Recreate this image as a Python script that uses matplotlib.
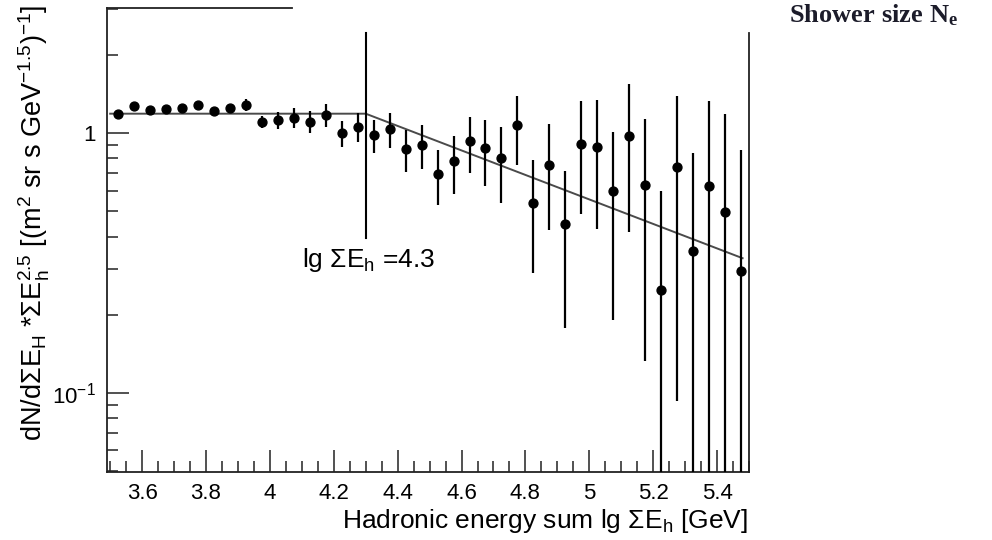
import numpy as np
import matplotlib
matplotlib.use("Agg")
import matplotlib.pyplot as plt
from matplotlib.ticker import MultipleLocator, FixedLocator, NullFormatter, FuncFormatter, LogLocator

plt.rcParams['font.family'] = ['Liberation Sans', 'DejaVu Sans']
plt.rcParams['mathtext.fontset'] = 'custom'
plt.rcParams['mathtext.rm'] = 'Liberation Sans'
plt.rcParams['mathtext.it'] = 'Liberation Sans:italic'
plt.rcParams['mathtext.bf'] = 'Liberation Serif:bold'

# bin centres, lg(sum E_h / GeV)
lg_e = [3.525, 3.575, 3.625, 3.675, 3.725, 3.775, 3.825, 3.875, 3.925, 3.975,
        4.025, 4.075, 4.125, 4.175, 4.225, 4.275, 4.325, 4.375, 4.425, 4.475,
        4.525, 4.575, 4.625, 4.675, 4.725, 4.775, 4.825, 4.875, 4.925, 4.975,
        5.025, 5.075, 5.125, 5.175, 5.225, 5.275, 5.325, 5.375, 5.425, 5.475]

# scaled flux dN/dSumE * SumE^2.5
flux = [1.19, 1.27, 1.23, 1.24, 1.25, 1.28, 1.22, 1.25, 1.29, 1.11,
        1.125, 1.15, 1.11, 1.18, 1.00, 1.06, 0.985, 1.04, 0.87, 0.90,
        0.695, 0.78, 0.93, 0.875, 0.80, 1.075, 0.54, 0.755, 0.447, 0.907,
        0.888, 0.60, 0.98, 0.632, 0.25, 0.743, 0.352, 0.628, 0.496, 0.295]

flux_err = [0.03, 0.03, 0.03, 0.03, 0.03, 0.03, 0.03, 0.03, 0.07, 0.058,
            0.083, 0.10, 0.11, 0.12, 0.115, 0.135, 0.145, 0.162, 0.16, 0.172,
            0.166, 0.195, 0.23, 0.25, 0.26, 0.32, 0.25, 0.33, 0.27, 0.42,
            0.46, 0.41, 0.565, 0.50, 0.35, 0.65, 0.49, 0.70, 0.69, 0.57]

# broken power-law fit
fit_x = [3.50, 4.30, 5.48]
fit_y = [1.19, 1.19, 0.33]

knee_x = 4.3
knee_lo, knee_hi = 0.394, 2.43

x_ticks = [3.6, 3.8, 4.0, 4.2, 4.4, 4.6, 4.8, 5.0, 5.2, 5.4]
y_ticks = [0.1, 1.0]
y_labels = [r'$\mathdefault{10^{-1}}$', '1']

fig = plt.figure(figsize=(9.92, 5.4), dpi=100)
ax = fig.add_axes([107 / 992, 68 / 540, 642 / 992, 464 / 540])

flux_a = np.array(flux)
err_a = np.array(flux_err)
lower = flux_a - np.clip(flux_a - err_a, 1e-3, None)

ax.errorbar(lg_e, flux, yerr=[lower, err_a], fmt='o', color='black',
            ms=6.4, elinewidth=1.6, capsize=0, zorder=3)
ax.plot(fit_x, fit_y, color='#4a4a4a', lw=1.4, zorder=2)
ax.plot([knee_x, knee_x], [knee_lo, knee_hi], color='black', lw=1.5, zorder=2)

ax.text(4.099, 0.306, r'lg ΣE$_{\rm h}$ =4.3', fontsize=19, ha='left', va='baseline')

ax.set_yscale('log')
ax.set_xlim(3.49, 5.5)
ax.set_ylim(0.0495, 3.04)

ax.xaxis.set_major_locator(FixedLocator(x_ticks))
ax.xaxis.set_minor_locator(MultipleLocator(0.05))
ax.xaxis.set_major_formatter(FuncFormatter(lambda v, p: '%g' % round(v, 2)))
ax.yaxis.set_major_locator(FixedLocator(y_ticks))
ax.yaxis.set_major_formatter(FuncFormatter(lambda v, p: y_labels[y_ticks.index(v)] if v in y_ticks else ''))
ax.yaxis.set_minor_locator(LogLocator(base=10, subs=np.arange(2, 10)))
ax.yaxis.set_minor_formatter(NullFormatter())

ax.tick_params(which='both', direction='in', top=False, right=False,
               width=1.1, labelsize=16, color='#222222')
ax.tick_params(which='major', length=15.5, pad=8)
ax.tick_params(which='minor', length=8)

for s in ax.spines.values():
    s.set_linewidth(1.3)
    s.set_color('#222222')
ax.spines['top'].set_bounds(3.49, 4.068)
ax.spines['right'].set_bounds(0.0495, 2.43)

fig.text(748 / 992, 1 - 528 / 540, r'Hadronic energy sum lg ΣE$_{\rm h}$ [GeV]',
         fontsize=19, ha='right', va='baseline')
fig.text(34 / 992, 1 - 223 / 540,
         r'dN/dΣE$_{\rm H}$ *ΣE$_{\rm h}^{2.5}$ [(m$^{2}$ sr s GeV$^{-1.5}$)$^{-1}$]',
         fontsize=19.5, rotation=90, ha='center', va='center')
fig.text(789 / 992, 1 - 22 / 540, r'$\mathbf{Shower\ size\ N_{e}}$',
         fontsize=19, ha='left', va='baseline', color='#1c1c2a')

fig.savefig('out.png', dpi=100)
